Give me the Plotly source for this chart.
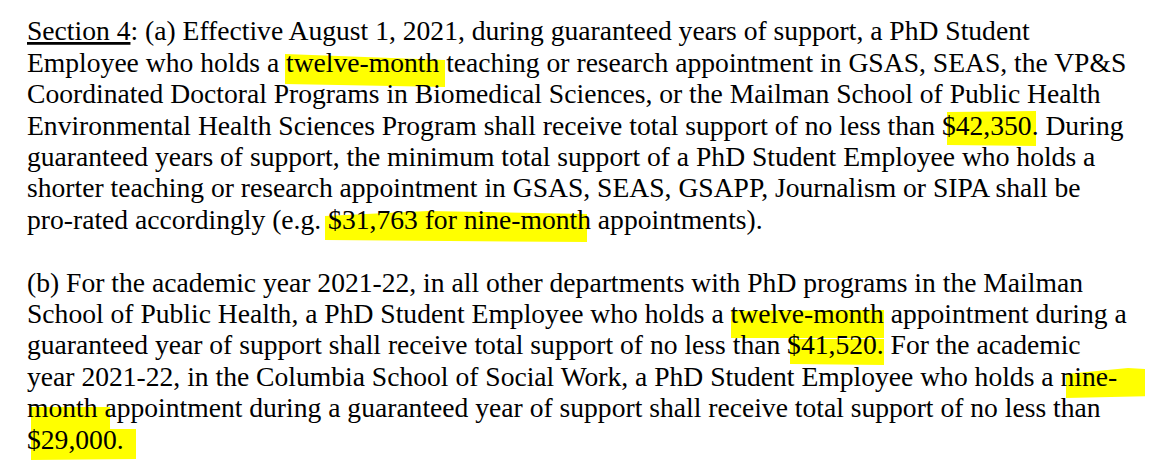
import plotly.graph_objects as go

# text of the clause, one entry per printed line ("" = blank line)
lines = [
    "<u>Section 4</u>: (a) Effective August 1, 2021, during guaranteed years of support, a PhD Student",
    "Employee who holds a twelve-month teaching or research appointment in GSAS, SEAS, the VP&amp;S",
    "Coordinated Doctoral Programs in Biomedical Sciences, or the Mailman School of Public Health",
    "Environmental Health Sciences Program shall receive total support of no less than $42,350. During",
    "guaranteed years of support, the minimum total support of a PhD Student Employee who holds a",
    "shorter teaching or research appointment in GSAS, SEAS, GSAPP, Journalism or SIPA shall be",
    "pro-rated accordingly (e.g. $31,763 for nine-month appointments).",
    "",
    "(b) For the academic year 2021-22, in all other departments with PhD programs in the Mailman",
    "School of Public Health, a PhD Student Employee who holds a twelve-month appointment during a",
    "guaranteed year of support shall receive total support of no less than $41,520. For the academic",
    "year 2021-22, in the Columbia School of Social Work, a PhD Student Employee who holds a nine-",
    "month appointment during a guaranteed year of support shall receive total support of no less than",
    "$29,000.",
]

# hand-drawn highlighter strokes (pixel coords)
highlights = [
    [(277, 46), (437, 52), (437, 79), (277, 76)],               # twelve-month
    [(939, 104), (1028, 103), (1028, 138), (939, 137)],         # $42,350
    [(317, 208), (420, 203), (579, 206), (579, 234), (317, 232)],  # $31,763 for nine-month
    [(723, 303), (876, 302), (876, 330), (723, 330)],           # twelve-mon
    [(782, 331), (876, 331), (876, 357), (782, 356)],           # $41,520
    [(1058, 366), (1120, 360), (1153, 362), (1153, 388), (1058, 390)],  # nine-
    [(23, 399), (102, 399), (102, 421), (23, 421)],             # month
    [(23, 421), (128, 421), (128, 451), (23, 452)],             # $29,000.
]

font_size = 27.6
first_base = 39.3
pitch = 31.4
x_left = 18      # annotation box adds ~10px before the glyphs
y_nudge = -7

fig = go.Figure()

for poly in highlights:
    path = "M " + " L ".join(f"{x},{y}" for x, y in poly) + " Z"
    fig.add_shape(type="path", path=path, xref="x", yref="y",
                  fillcolor="#ffff00", line=dict(width=0), layer="below")

for i, txt in enumerate(lines):
    if not txt:
        continue
    base = first_base + pitch * i
    fig.add_annotation(x=x_left, y=base - 0.3375 * font_size + y_nudge, xref="x", yref="y",
                       text=txt, showarrow=False, xanchor="left", yanchor="middle",
                       align="left", borderpad=0,
                       font=dict(family="Liberation Serif", size=font_size, color="#000000"))

fig.update_xaxes(range=[0, 1153], visible=False, fixedrange=True)
fig.update_yaxes(range=[466, 0], visible=False, fixedrange=True)
fig.update_layout(width=1153, height=466, margin=dict(l=0, r=0, t=0, b=0),
                  paper_bgcolor="white", plot_bgcolor="white", showlegend=False)

fig.write_html("out.html", config={"displayModeBar": False})
